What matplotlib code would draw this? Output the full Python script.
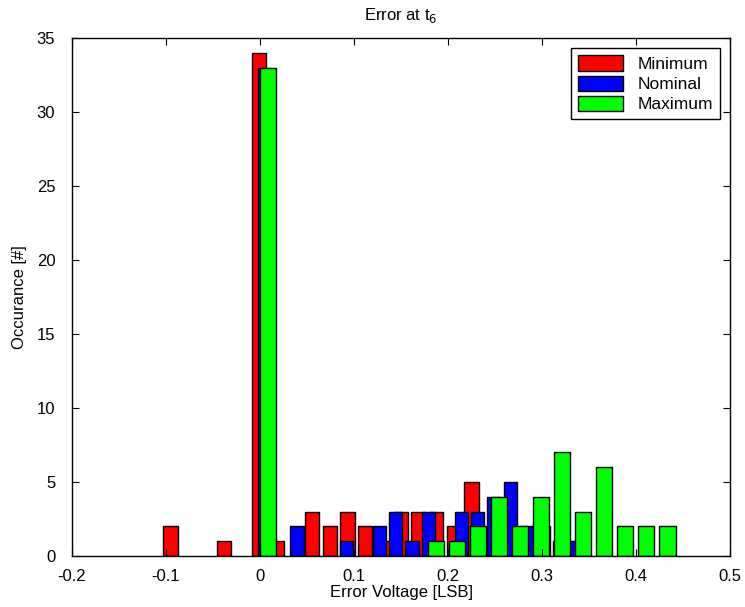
import matplotlib
matplotlib.use('Agg')
import matplotlib.pyplot as plt
import numpy as np

plt.rcParams['font.family'] = ['Liberation Sans', 'DejaVu Sans']

# histogram bin centres and counts for each corner
min_centers = [-0.0952, -0.0764, -0.0576, -0.0387, -0.0199, -0.0011, 0.0178, 0.0366, 0.0554, 0.0743,
               0.0931, 0.1119, 0.1308, 0.1496, 0.1684, 0.1873, 0.2061, 0.2249, 0.2437, 0.2626]
min_counts = [2, 0, 0, 1, 0, 34, 1, 0, 3, 2, 3, 2, 1, 3, 3, 3, 2, 5, 0, 1]

nom_centers = [0.0045, 0.0220, 0.0394, 0.0569, 0.0743, 0.0918, 0.1092, 0.1267, 0.1441, 0.1616,
               0.1790, 0.1965, 0.2139, 0.2314, 0.2488, 0.2663, 0.2837, 0.3012, 0.3186, 0.3361]
nom_counts = [33, 0, 2, 0, 0, 1, 0, 2, 3, 1, 3, 0, 3, 3, 4, 5, 2, 2, 1, 1]

max_centers = [0.0085, 0.0308, 0.0532, 0.0755, 0.0979, 0.1202, 0.1425, 0.1649, 0.1872, 0.2096,
               0.2319, 0.2542, 0.2766, 0.2989, 0.3213, 0.3436, 0.3659, 0.3883, 0.4106, 0.4330]
max_counts = [33, 0, 0, 0, 0, 0, 0, 0, 1, 1, 2, 4, 2, 4, 7, 3, 6, 2, 2, 2]

xticks = [-0.2, -0.1, 0, 0.1, 0.2, 0.3, 0.4, 0.5]
xtick_labels = ['-0.2', '-0.1', '0', '0.1', '0.2', '0.3', '0.4', '0.5']
yticks = [0, 5, 10, 15, 20, 25, 30, 35]

fig = plt.figure(figsize=(7.45, 6.07), dpi=100)
ax = fig.add_axes([0.0966, 0.084, 0.8834, 0.8534])

series = [(min_centers, min_counts, '#ff0000', 'Minimum'),
          (nom_centers, nom_counts, '#0000ff', 'Nominal'),
          (max_centers, max_counts, '#00ff00', 'Maximum')]

for centers, counts, color, label in series:
    # bar width is 80% of the bin spacing; empty bins get no outline
    w = 0.8 * np.mean(np.diff(centers))
    edges = ['black' if c > 0 else 'none' for c in counts]
    ax.bar(centers, counts, width=w, color=color, edgecolor=edges, linewidth=1.0, label=label)

ax.set_xlim(-0.2, 0.5)
ax.set_ylim(0, 35)
ax.set_xticks(xticks)
ax.set_xticklabels(xtick_labels)
ax.set_yticks(yticks)
ax.tick_params(direction='in', top=True, right=True, length=5, labelsize=12)
ax.tick_params(axis='x', pad=9)
ax.tick_params(axis='y', pad=12)
for s in ax.spines.values():
    s.set_linewidth(1.0)
    s.set_zorder(3)

ax.set_title('Error at t$_6$', fontsize=12, pad=13)
ax.set_xlabel('Error Voltage [LSB]', fontsize=12, labelpad=1)
ax.set_ylabel('Occurance [#]', fontsize=12, labelpad=7)

leg = ax.legend(loc='upper right', fontsize=12.5, fancybox=False, edgecolor='black',
                framealpha=1, borderpad=0.4, labelspacing=0.2, handlelength=2.6,
                handleheight=1.0, handletextpad=0.8, borderaxespad=0.6)
for h in leg.legend_handles:
    h.set_edgecolor('black')
leg.get_frame().set_linewidth(1.0)

plt.savefig('out.png', dpi=100)
